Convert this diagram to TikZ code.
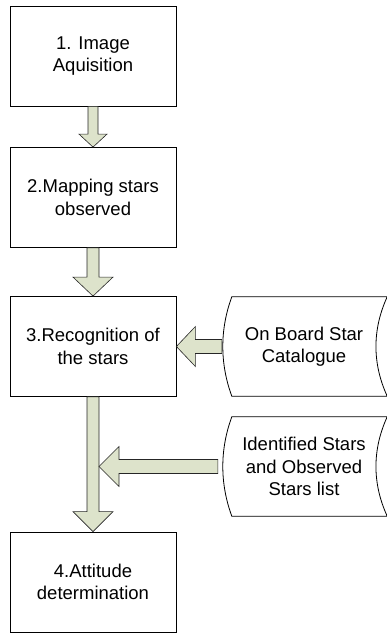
\documentclass[tikz,border=0pt]{standalone}
\usepackage{fontspec}
\setmainfont{Liberation Sans}
\usetikzlibrary{calc}
\definecolor{arrowSage}{HTML}{DDE3CB}

\begin{document}
\begin{tikzpicture}[x=1pt,y=-1pt,
    stepbox/.style={draw, line width=0.8pt, minimum width=166pt, minimum height=100pt,
      inner sep=0pt, align=center, font=\fontsize{18.5}{22.5}\selectfont},
    storetext/.style={minimum width=162pt, minimum height=99pt, inner sep=0pt,
      align=center, font=\fontsize{18.5}{22.5}\selectfont},
    blockarrow/.style={fill=arrowSage, draw=black!85, line width=0.6pt}]
    \useasboundingbox (0,0) rectangle (387,634);
    % process steps
    \node[stepbox] (img) at (93,56) {1. Image\\Aquisition};
    \node[stepbox] (map) at (93,197.5) {2.Mapping stars\\observed};
    \node[stepbox] (rec) at (93,346.5) {3.Recognition of\\the stars};
    \node[stepbox] (att) at (93,582) {4.Attitude\\determination};
    % stored data
    \node[storetext] (cat) at (304,346.5) {On Board Star\\Catalogue};
    \node[storetext] (ids) at (304,466.5) {Identified Stars\\and Observed\\Stars list};
    \draw[line width=0.8pt] ($(cat.north west)+(9,0)$) -- ($(cat.north east)+(2,0)$)
        .. controls ($(cat.east)+(-13,-17)$) and ($(cat.east)+(-13,17)$) .. ($(cat.south east)+(2,0)$)
        -- ($(cat.south west)+(9,0)$)
        .. controls ($(cat.west)+(-3,17)$) and ($(cat.west)+(-3,-17)$) .. cycle;
    \draw[line width=0.8pt] ($(ids.north west)+(9,0)$) -- ($(ids.north east)+(2,0)$)
        .. controls ($(ids.east)+(-13,-17)$) and ($(ids.east)+(-13,17)$) .. ($(ids.south east)+(2,0)$)
        -- ($(ids.south west)+(9,0)$)
        .. controls ($(ids.west)+(-3,17)$) and ($(ids.west)+(-3,-17)$) .. cycle;
    % block arrows
    \filldraw[blockarrow] ($(img.south)+(-5,0)$) -- ($(map.north)+(-5,-13)$) -- ($(map.north)+(-14,-13)$)
        -- (map.north) -- ($(map.north)+(14,-13)$) -- ($(map.north)+(5,-13)$) -- ($(img.south)+(5,0)$) -- cycle;
    \filldraw[blockarrow] ($(map.south)+(-6,0)$) -- ($(rec.north)+(-6,-19)$) -- ($(rec.north)+(-20,-19)$)
        -- (rec.north) -- ($(rec.north)+(20,-19)$) -- ($(rec.north)+(6,-19)$) -- ($(map.south)+(6,0)$) -- cycle;
    \filldraw[blockarrow] ($(rec.south)+(-6,0)$) -- ($(att.north)+(-6,-20)$) -- ($(att.north)+(-20,-20)$)
        -- (att.north) -- ($(att.north)+(20,-20)$) -- ($(att.north)+(6,-20)$) -- ($(rec.south)+(6,0)$) -- cycle;
    \filldraw[blockarrow] ($(cat.west)+(-1,-7)$) -- ($(rec.east)+(19,-7)$) -- ($(rec.east)+(19,-20)$)
        -- (rec.east) -- ($(rec.east)+(19,20)$) -- ($(rec.east)+(19,7)$) -- ($(cat.west)+(-1,7)$) -- cycle;
    \coordinate (join) at ($(rec.south)+(6,0)$);
    \filldraw[blockarrow] ($(ids.west)+(-5,-7)$) -- ($(join |- ids.west)+(20,-7)$) -- ($(join |- ids.west)+(20,-20)$)
        -- (join |- ids.west) -- ($(join |- ids.west)+(20,20)$) -- ($(join |- ids.west)+(20,7)$) -- ($(ids.west)+(-5,7)$) -- cycle;
\end{tikzpicture}
\end{document}
